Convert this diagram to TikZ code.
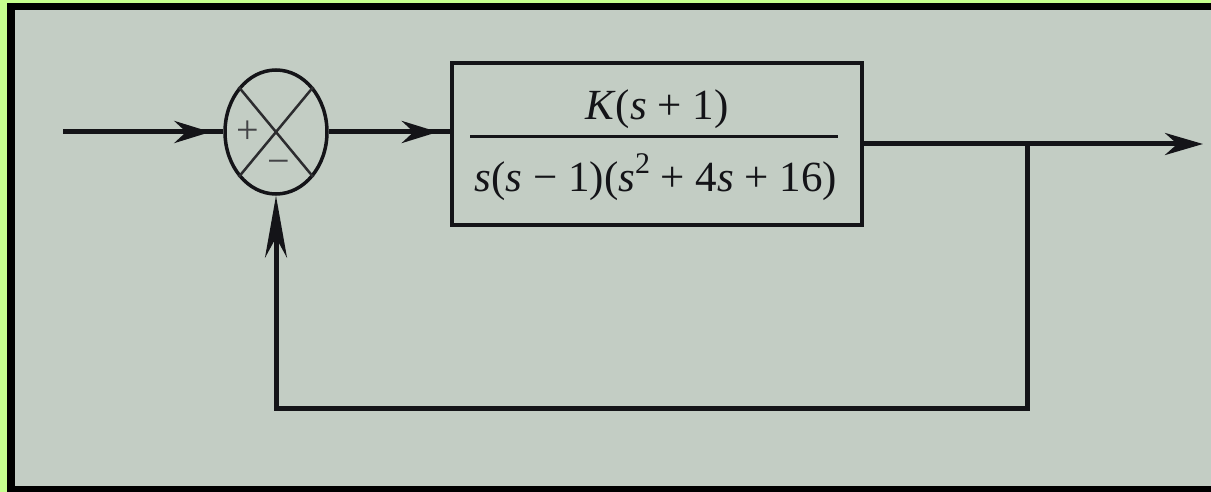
\documentclass[tikz,border=0pt]{standalone}
\usepackage{fontspec}
\setmainfont{Liberation Serif}
\usetikzlibrary{shapes.geometric,arrows.meta,decorations.markings}
\definecolor{limeframe}{RGB}{198,255,142}
\definecolor{paper}{RGB}{195,205,196}
\definecolor{ink}{RGB}{20,20,24}
\tikzset{
  sig/.style={line width=5pt, draw=ink, line join=miter},
  endtip/.style={-{Stealth[length=38pt,width=22pt]}},
  midarrow/.style={postaction={decorate}, decoration={markings, mark=at position #1 with {\arrow{Stealth[length=36pt,width=22pt]}}}},
  summer/.style={ellipse, draw=ink, line width=3.5pt, minimum width=102pt, minimum height=124pt, inner sep=0pt},
  plantbox/.style={draw=ink, line width=4pt, minimum width=410pt, minimum height=162pt, inner sep=0pt},
  tf/.style={font=\fontsize{43}{50}\selectfont, inner sep=0pt, anchor=base, text=ink},
  signlbl/.style={font=\fontsize{40}{44}\selectfont, inner sep=0pt, text=ink!80},
}
\begin{document}
\begin{tikzpicture}[x=1pt,y=-1pt]
\useasboundingbox (0,0) rectangle (1211,492);
\fill[limeframe] (0,0) rectangle (1211,492);
\fill[black] (7,3) rectangle (1211,492);
\fill[paper] (15,10) rectangle (1211,486);

% summing junction
\node[summer] (sum) at (276,132) {};
\draw[ink!90, line width=2.5pt] (sum.north west) -- (sum.south east);
\draw[ink!90, line width=2.5pt] (sum.north east) -- (sum.south west);
\node[signlbl] (plus) at (248,132) {+};
\node[signlbl] (minus) at (279,167) {−};

% plant block
\node[plantbox] (plant) at (657,144) {};
\node[tf] (num) at (657,120) {\textit{K}(\textit{s} + 1)};
\node[tf] (den) at (656,192) {\textit{s}(\textit{s} − 1)(\textit{s}\raisebox{0.42em}{\fontsize{30}{30}\selectfont 2} + 4\textit{s} + 16)};
\coordinate (barl) at (470,137);
\coordinate (barr) at (838,137);
\draw[ink, line width=3pt] (barl) -- (barr);

% signal coordinates
\coordinate (in) at (63,132);
\coordinate (out) at (1203,144);
\coordinate (br) at (1027,144);
\coordinate (fb) at (276,408);

% connectors
\draw[sig, midarrow=0.92] (in) -- (sum.west);
\draw[sig, midarrow=0.9] (sum.east) -- (sum.east -| plant.west);
\draw[sig, endtip] (plant.east) -- (out);
\draw[sig, -{Stealth[length=62pt,width=22pt]}] (br) |- (fb) -- (sum.south);
\end{tikzpicture}
\end{document}
